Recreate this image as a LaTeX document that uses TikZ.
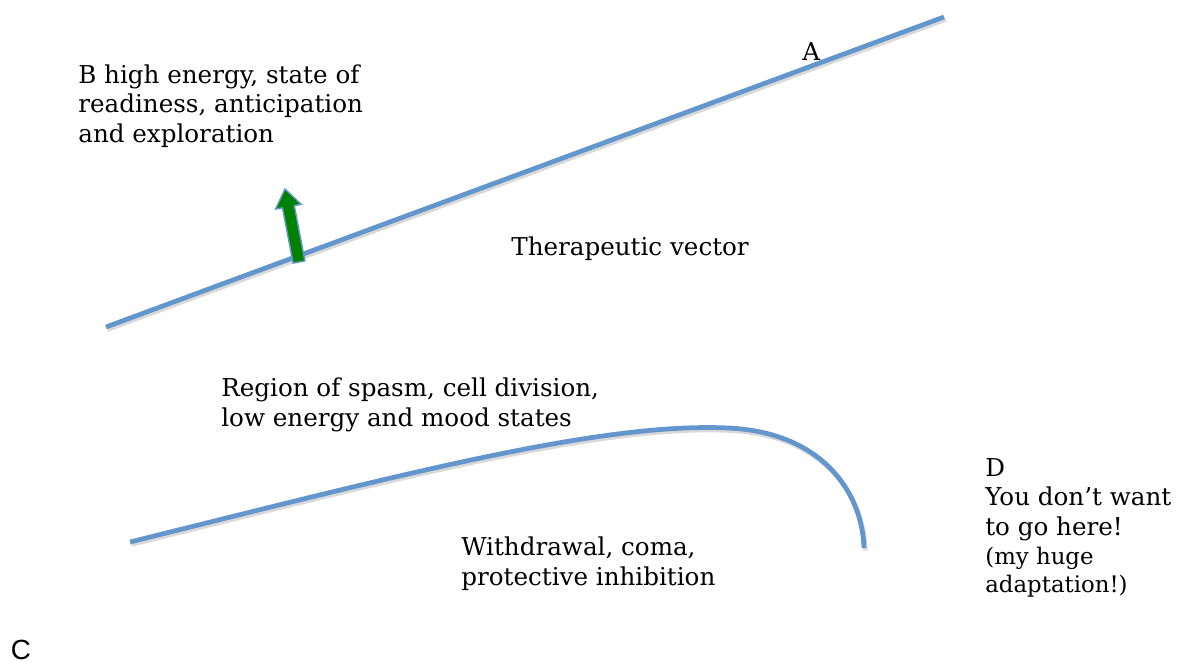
\documentclass[tikz,border=0pt]{standalone}
\usepackage{fontspec}
\setmainfont{DejaVu Serif}
\setsansfont{Liberation Sans}
\definecolor{vecblue}{RGB}{98,150,205}
\definecolor{arrowgreen}{RGB}{0,130,0}

\begin{document}
\begin{tikzpicture}[
    x=0.02cm, y=-0.02cm,
    curve/.style={draw=vecblue, line width=2.7pt,
        preaction={draw=black!15, line width=2.7pt, transform canvas={shift={(0.8pt,-1.4pt)}}}},
    label/.style={anchor=base west, inner sep=0pt, align=left,
        font=\fontsize{14}{16.7}\selectfont},
    note/.style={anchor=base west, inner sep=0pt, align=left,
        font=\fontsize{13}{15.8}\selectfont},
    letter/.style={anchor=base, inner sep=0pt, font=\sffamily\fontsize{15.8}{18}\selectfont}
]
    \useasboundingbox (0,0) rectangle (1194,666);

    % 端点定义
    \coordinate (vecstart) at (106,327);   % 治疗向量起点
    \coordinate (vecend)   at (944,17);    % 治疗向量终点
    \coordinate (lowstart) at (130,542);   % 下方曲线起点
    \coordinate (lowpeak)  at (728,428);   % 下方曲线顶点
    \coordinate (lowend)   at (864,548);   % 下方曲线终点

    % 1. 治疗向量直线
    \draw[curve] (vecstart) -- (vecend);

    % 2. 绿色箭头
    \filldraw[fill=arrowgreen, draw=vecblue, line width=0.8pt, line join=miter]
        (293.1,263.1) -- (282.5,207.8) -- (275.6,209.1) -- (285,189)
        -- (301.2,204.3) -- (294.3,205.6) -- (304.9,260.9) -- cycle;

    % 3. 下方弯曲线
    \draw[curve] (lowstart) .. controls (400,475) and (600,422) .. (lowpeak)
        .. controls (820,432) and (862,490) .. (lowend);

    % 文字 (多行节点以最后一行基线定位)
    \node[label] (A) at (802,60) {A};
    \node[label] (B) at (78,142) {B high energy, state of\\readiness, anticipation\\and exploration};
    \node[label] (therapy) at (511,255) {Therapeutic vector};
    \node[label] (spasm) at (221,426) {Region of spasm, cell division,\\low energy and mood states};
    \node[label] (withdraw) at (461,585) {Withdrawal, coma,\\protective inhibition};
    \node[label] (D) at (985,535) {D\\You don’t want\\to go here!};
    \node[note] (Dnote) at (985,592) {(my huge\\adaptation!)};
    \node[letter] (C) at (21,659) {C};
\end{tikzpicture}
\end{document}
